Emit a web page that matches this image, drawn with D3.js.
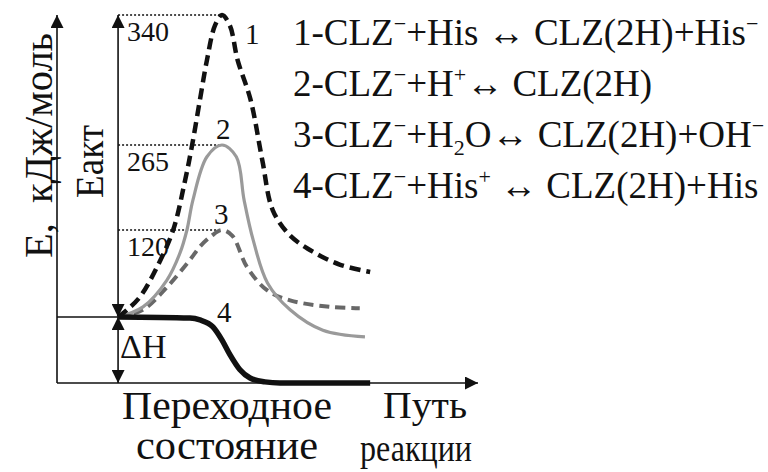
<!DOCTYPE html>
<html>
<head>
<meta charset="utf-8">
<script src="https://cdn.jsdelivr.net/npm/d3@7"></script>
<style>
  body { margin: 0; background: #fff; }
  text { font-family: "Liberation Serif", "Times New Roman", serif; fill: #111; white-space: pre; }
</style>
</head>
<body>
<div id="chart-container"></div>
<script>
const w = 768;
const h = 472;

// energy levels (kJ/mol), schematic scale
const LEVELS = [340, 265, 120];
const DH = -60; // product level of curve 4 (schematic)

// curves: [reaction coordinate, energy]
const curve1 = [[0,0],[0.35,10],[0.85,28],[1.5,69],[2.12,120],[2.58,205],[2.85,265],[3.15,291],[3.42,314],[3.73,334],[4,340],[4.3,334],[4.6,314],[5.1,291],[5.55,239],[5.95,154],[6.6,113],[7.5,90],[8.55,72],[9.7,62]];
const curve2 = [[0,0],[0.96,14],[1.88,51],[2.38,88],[2.65,120],[2.88,171],[3.42,245],[4,265],[4.55,245],[4.85,171],[5.2,106],[5.75,47],[6.62,10],[7.88,-12],[9.5,-18]];
const curve3 = [[0,0],[0.96,10],[1.88,41],[2.77,79],[3.15,97],[3.6,112],[4,120],[4.4,112],[4.96,69],[5.73,37],[6.62,23],[8.15,14],[9.3,12]];
const curve4 = [[0,0],[2.77,-1],[3.15,-2.7],[3.65,-9],[4,-21],[4.31,-34.5],[4.69,-48],[5.08,-55.5],[5.65,-59],[6.23,-60],[9.7,-60]];

const LEGEND = [
    "1-CLZ^{−}+His ↔ CLZ(2H)+His^{−}",
    "2-CLZ^{−}+H^{+}↔ CLZ(2H)",
    "3-CLZ^{−}+H_{2}O↔ CLZ(2H)+OH^{−}",
    "4-CLZ^{−}+His^{+} ↔ CLZ(2H)+His"
];

const svg = d3.select("#chart-container").append("svg").attr("width", w).attr("height", h);

const x = d3.scaleLinear().domain([-2.35, 13.85]).range([57, 478]);
const y = d3.scaleLinear().domain([DH, 0, 120, 265, 340]).range([383, 317, 230, 145, 15]);

// arrow head
svg.append("defs").append("marker")
    .attr("id", "arrow")
    .attr("viewBox", "0 0 10 10")
    .attr("refX", 10).attr("refY", 5)
    .attr("markerUnits", "userSpaceOnUse")
    .attr("markerWidth", 17).attr("markerHeight", 13)
    .attr("orient", "auto-start-reverse")
    .append("path").attr("d", "M0,0 L10,5 L0,10 z").attr("fill", "#111");

const axisG = svg.append("g").attr("stroke", "#111").attr("stroke-width", 1.6).attr("fill", "none");

// axes
axisG.append("line").attr("x1", x(-2.35)).attr("y1", y(DH)).attr("x2", x(-2.35)).attr("y2", y(340))
    .attr("marker-end", "url(#arrow)");
axisG.append("line").attr("x1", x(-2.35)).attr("y1", y(DH)).attr("x2", x(13.85)).attr("y2", y(DH))
    .attr("marker-end", "url(#arrow)");
// reactant level
axisG.append("line").attr("x1", x(-2.35)).attr("y1", y(0)).attr("x2", x(0)).attr("y2", y(0));
// Eакт arrow
axisG.append("line").attr("x1", x(0)).attr("y1", y(0)).attr("x2", x(0)).attr("y2", y(340))
    .attr("marker-start", "url(#arrow)").attr("marker-end", "url(#arrow)");
// ΔH arrow
axisG.append("line").attr("x1", x(0)).attr("y1", y(0)).attr("x2", x(0)).attr("y2", y(DH))
    .attr("marker-start", "url(#arrow)").attr("marker-end", "url(#arrow)");

// dotted level lines
svg.selectAll(".level")
    .data(LEVELS)
    .enter().append("line")
    .attr("class", "level")
    .attr("x1", x(0)).attr("x2", x(4))
    .attr("y1", d => y(d)).attr("y2", d => y(d))
    .attr("stroke", "#111").attr("stroke-width", 1.6).attr("stroke-dasharray", "2,2");

svg.selectAll(".tick-label")
    .data(LEVELS)
    .enter().append("text")
    .attr("class", "tick-label")
    .attr("x", x(0) + 9)
    .attr("y", d => y(d) + 26)
    .style("font-size", "28px")
    .text(d => d);

const peakLine = d3.line().x(d => x(d[0])).y(d => y(d[1])).curve(d3.curveCatmullRom.alpha(0.5));
const stepLine = d3.line().x(d => x(d[0])).y(d => y(d[1])).curve(d3.curveMonotoneX);

const curves = [
    { data: curve3, gen: peakLine, color: "#686868", width: 4, dash: "10,6" },
    { data: curve2, gen: peakLine, color: "#9a9a9a", width: 3.2, dash: null },
    { data: curve1, gen: peakLine, color: "#111", width: 4.5, dash: "11,6" },
    { data: curve4, gen: stepLine, color: "#111", width: 5.5, dash: null }
];

svg.selectAll(".curve")
    .data(curves)
    .enter().append("path")
    .attr("class", "curve")
    .attr("d", d => d.gen(d.data))
    .attr("fill", "none")
    .attr("stroke", d => d.color)
    .attr("stroke-width", d => d.width)
    .attr("stroke-dasharray", d => d.dash);

// curve numbers
const numG = svg.append("g").style("font-size", "29px");
numG.append("text").attr("x", x(4) + 23).attr("y", y(340) + 29).text("1");
numG.append("text").attr("x", x(4) - 6).attr("y", y(265) - 6).text("2");
numG.append("text").attr("x", x(4) - 8).attr("y", y(120) - 6).text("3");
numG.append("text").attr("x", x(4) - 5).attr("y", y(0) + 5).text("4");

// axis titles
svg.append("text")
    .attr("transform", "translate(52,258) rotate(-90)")
    .style("font-size", "40px")
    .attr("textLength", 225).attr("lengthAdjust", "spacingAndGlyphs")
    .text("E,  кДж/моль");
svg.append("text")
    .attr("transform", "translate(103,198) rotate(-90)")
    .style("font-size", "40px")
    .attr("textLength", 73).attr("lengthAdjust", "spacingAndGlyphs")
    .text("Eакт");
svg.append("text").attr("x", x(0) + 2).attr("y", 358).style("font-size", "34px").text("ΔH");

svg.append("text").attr("x", 122).attr("y", 419).style("font-size", "40px")
    .attr("textLength", 210).attr("lengthAdjust", "spacingAndGlyphs").text("Переходное");
svg.append("text").attr("x", 136).attr("y", 459).style("font-size", "40px")
    .attr("textLength", 182).attr("lengthAdjust", "spacingAndGlyphs").text("состояние");
svg.append("text").attr("x", 383).attr("y", 418).style("font-size", "38px")
    .attr("textLength", 84).attr("lengthAdjust", "spacingAndGlyphs").text("Путь");
svg.append("text").attr("x", 360).attr("y", 461).style("font-size", "38px")
    .attr("textLength", 112).attr("lengthAdjust", "spacingAndGlyphs").text("реакции");

// legend with super/subscripts
const legend = svg.append("g").style("font-size", "37px");
LEGEND.forEach((str, i) => {
    const t = legend.append("text").attr("x", 293).attr("y", 45 + i * 51);
    let pending = 0;
    str.split(/(\^\{[^}]*\}|_\{[^}]*\})/).filter(s => s.length).forEach(part => {
        if (part[0] === "^" || part[0] === "_") {
            const shift = part[0] === "^" ? -14 : 8;
            t.append("tspan").attr("dy", pending + shift).style("font-size", "22px").text(part.slice(2, -1));
            pending = -shift;
        } else {
            t.append("tspan").attr("dy", pending).text(part);
            pending = 0;
        }
    });
});
</script>
</body>
</html>
